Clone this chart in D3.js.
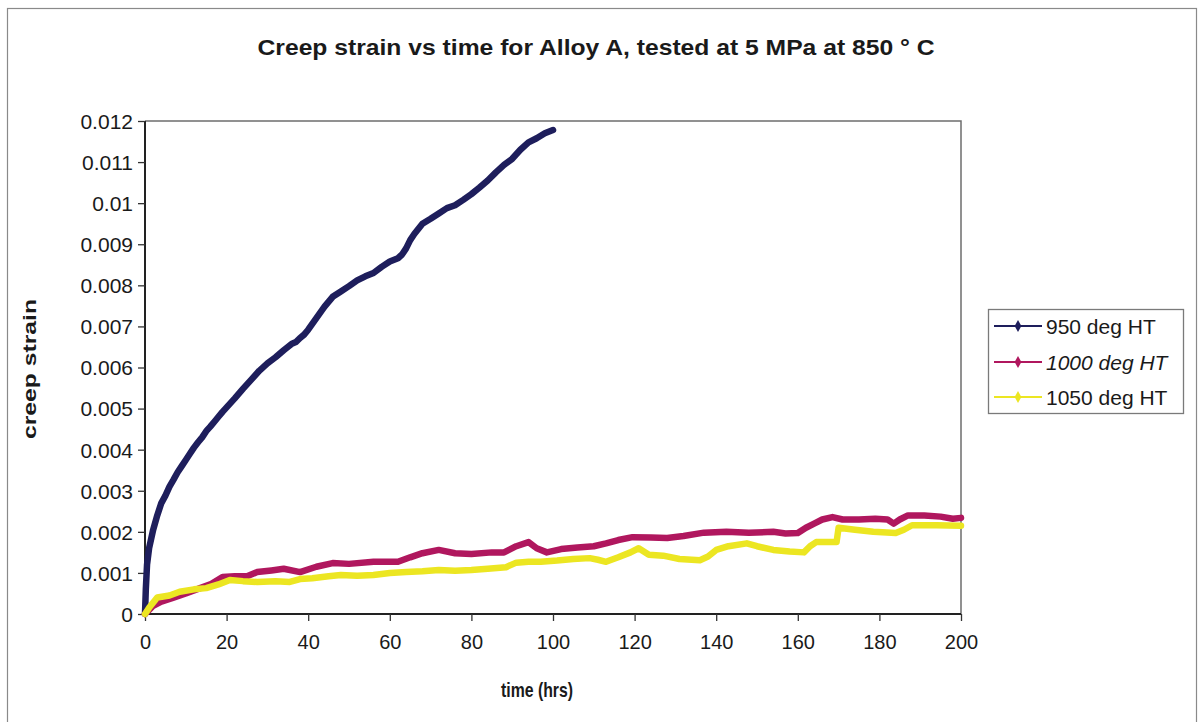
<!DOCTYPE html>
<html>
<head>
<meta charset="utf-8">
<script src="https://cdn.jsdelivr.net/npm/d3@7/dist/d3.min.js"></script>
<style>
  html, body { margin: 0; padding: 0; background: #ffffff; }
  svg { display: block; }
  text { font-family: "Liberation Sans", Arial, sans-serif; fill: #1a1a1a; }
</style>
</head>
<body>
<svg id="chart" width="1199" height="722"></svg>
<script>
// Creep strain (mm/mm) against time (hours) for three heat treatments
const series950 = [
  [0, 0], [0.2, 0.0006], [0.5, 0.0012], [1, 0.0016], [2, 0.00205], [3, 0.0024],
  [4, 0.0027], [5, 0.00288], [6, 0.0031], [7, 0.00327], [8, 0.00345], [9, 0.0036],
  [10, 0.00375], [11, 0.0039], [12, 0.00405], [13, 0.00418], [14, 0.0043], [15, 0.00445],
  [16, 0.00456], [17, 0.00468], [18, 0.0048], [19, 0.00492], [20, 0.00503], [22, 0.00525],
  [24, 0.00548], [26, 0.0057], [28, 0.00592], [30, 0.0061], [32, 0.00625], [34, 0.00642],
  [36, 0.00658], [37, 0.00662], [38, 0.00672], [39, 0.0068], [40, 0.00692], [42, 0.0072],
  [44, 0.00748], [46, 0.00772], [48, 0.00785], [50, 0.00798], [52, 0.00812], [54, 0.00822],
  [56, 0.0083], [58, 0.00845], [60, 0.00858], [62, 0.00866], [63, 0.00875], [64, 0.0089],
  [65, 0.0091], [66, 0.00925], [68, 0.0095], [70, 0.00962], [72, 0.00975], [74, 0.00988], [76, 0.00995],
  [78, 0.01008], [80, 0.01022], [82, 0.01038], [84, 0.01055], [86, 0.01075], [88, 0.01093],
  [90, 0.01108], [92, 0.0113], [94, 0.01148], [96, 0.01158], [98, 0.0117], [100, 0.01178]
];

const series1000 = [
  [0, 0], [1, 0.0001], [2, 0.0002], [4, 0.0003], [7, 0.0004], [10, 0.0005],
  [13.5, 0.00063], [16, 0.00072], [19, 0.0009], [22, 0.00092], [25, 0.00092], [27.5, 0.00102],
  [31, 0.00106], [34, 0.0011], [38, 0.00102], [42, 0.00115], [46, 0.00124], [50, 0.00122],
  [56, 0.00127], [62, 0.00127], [65, 0.00138], [68, 0.00148], [72, 0.00156], [76, 0.00148],
  [80, 0.00146], [85, 0.0015], [88, 0.0015], [91, 0.00165], [94, 0.00175], [96, 0.0016],
  [98.5, 0.0015], [102, 0.00158], [106, 0.00162], [110, 0.00165], [113, 0.00172], [116, 0.0018],
  [119.5, 0.00187], [124, 0.00186], [128, 0.00185], [132, 0.0019], [137, 0.00198], [142.5, 0.002],
  [148, 0.00198], [154, 0.002], [157, 0.00196], [160, 0.00197], [162, 0.0021], [164, 0.0022],
  [166, 0.0023], [168.5, 0.00236], [171, 0.0023], [175, 0.0023], [179, 0.00232], [182, 0.0023],
  [183.5, 0.0022], [185, 0.0023], [187, 0.0024], [191, 0.0024], [195, 0.00237], [198, 0.00232],
  [200, 0.00234]
];

const series1050 = [
  [0, 0], [1, 0.00015], [3, 0.0004], [6, 0.00045], [8.5, 0.00054], [12, 0.0006],
  [15, 0.00063], [18, 0.00072], [20.8, 0.00083], [24, 0.0008], [27.5, 0.00078], [32, 0.0008],
  [35.5, 0.00078], [38, 0.00085], [41, 0.00087], [45, 0.00092], [48, 0.00095], [52, 0.00093],
  [56, 0.00095], [60, 0.001], [64, 0.00102], [68, 0.00104], [72, 0.00107], [76, 0.00105],
  [80, 0.00107], [84, 0.0011], [88.5, 0.00114], [91, 0.00125], [94, 0.00127], [97, 0.00127],
  [101, 0.0013], [105, 0.00134], [109, 0.00136], [111, 0.00132], [113, 0.00127], [116, 0.00138],
  [119, 0.0015], [121, 0.0016], [123.5, 0.00144], [127, 0.00142], [131, 0.00134], [136, 0.00131],
  [138, 0.0014], [140, 0.00156], [143, 0.00165], [147.5, 0.00172], [150, 0.00165], [154, 0.00156],
  [158, 0.00152], [161.5, 0.0015], [163, 0.00165], [164.5, 0.00175], [169.5, 0.00175], [170, 0.0021],
  [174, 0.00205], [178.5, 0.002], [184, 0.00197], [186, 0.00205], [188, 0.00216], [194, 0.00216],
  [200, 0.00215]
];

const seriesNames = ["950 deg HT", "1000 deg HT", "1050 deg HT"];
const seriesColors = ["#1e1e5c", "#b0175e", "#ece622"];
const xTicks = [0, 20, 40, 60, 80, 100, 120, 140, 160, 180, 200];
const yTicks = [0, 0.001, 0.002, 0.003, 0.004, 0.005, 0.006, 0.007, 0.008, 0.009, 0.01, 0.011, 0.012];
const yTickLabels = ["0", "0.001", "0.002", "0.003", "0.004", "0.005", "0.006", "0.007", "0.008", "0.009", "0.01", "0.011", "0.012"];

const titleText = "Creep strain vs time for Alloy A, tested at 5 MPa at 850 \u00b0 C";
const xTitle = "time (hrs)";
const yTitle = "creep strain";

const svg = d3.select("#chart");

// Outer chart frame
svg.append("rect")
  .attr("x", 7.5).attr("y", 8.5)
  .attr("width", 1189).attr("height", 760)
  .attr("fill", "#ffffff")
  .attr("stroke", "#8a8a8a").attr("stroke-width", 1.2);

const plot = { left: 145, right: 961, top: 121, bottom: 614 };

const x = d3.scaleLinear().domain([0, 200]).range([plot.left, plot.right]);
const y = d3.scaleLinear().domain([0, 0.012]).range([plot.bottom, plot.top]);

// Plot area border (top and right)
svg.append("path")
  .attr("d", `M${plot.left},${plot.top}H${plot.right}V${plot.bottom}`)
  .attr("fill", "none").attr("stroke", "#6e6e6e").attr("stroke-width", 1.5);

// Axes
const yAxis = d3.axisLeft(y)
  .tickValues(yTicks)
  .tickFormat((d, i) => yTickLabels[i])
  .tickSize(7).tickPadding(5);
const gy = svg.append("g").attr("transform", `translate(${plot.left},0)`).call(yAxis);

const xAxis = d3.axisBottom(x)
  .tickValues(xTicks)
  .tickSize(7).tickPadding(14);
const gx = svg.append("g").attr("transform", `translate(0,${plot.bottom})`).call(xAxis);

[gx, gy].forEach(g => {
  g.select(".domain").attr("stroke", "#222").attr("stroke-width", 2);
  g.selectAll(".tick line").attr("stroke", "#333").attr("stroke-width", 1.3);
  g.selectAll(".tick text")
    .attr("fill", "#1a1a1a")
    .style("font-family", '"Liberation Sans", Arial, sans-serif');
});
gx.selectAll(".tick text").style("font-size", "20px");
gy.selectAll(".tick text").style("font-size", "21px").attr("dy", "0.35em");
gx.select(".domain").attr("d", `M${plot.left},0H${plot.right}`);
gy.select(".domain").attr("d", `M0,${plot.bottom}V${plot.top}`);

// Series lines
const line = d3.line().x(d => x(d[0])).y(d => y(d[1]));
const allSeries = [series950, series1000, series1050];
allSeries.forEach((s, i) => {
  svg.append("path")
    .datum(s)
    .attr("d", line)
    .attr("fill", "none")
    .attr("stroke", seriesColors[i])
    .attr("stroke-width", 6.5)
    .attr("stroke-linejoin", "round")
    .attr("stroke-linecap", "round");
});

// Title and axis titles
svg.append("text")
  .attr("x", 596).attr("y", 55)
  .attr("text-anchor", "middle")
  .attr("textLength", 677).attr("lengthAdjust", "spacingAndGlyphs")
  .style("font-size", "22px").style("font-weight", "bold")
  .text(titleText);

svg.append("text")
  .attr("x", 537).attr("y", 697)
  .attr("text-anchor", "middle")
  .attr("textLength", 72).attr("lengthAdjust", "spacingAndGlyphs")
  .style("font-size", "21px").style("font-weight", "bold")
  .text(xTitle);

svg.append("text")
  .attr("transform", "translate(36,369) rotate(-90)")
  .attr("text-anchor", "middle")
  .attr("textLength", 140).attr("lengthAdjust", "spacingAndGlyphs")
  .style("font-size", "19px").style("font-weight", "bold")
  .text(yTitle);

// Legend
const legend = svg.append("g");
legend.append("rect")
  .attr("x", 988.5).attr("y", 309.5)
  .attr("width", 195).attr("height", 104)
  .attr("fill", "#ffffff").attr("stroke", "#7a7a7a").attr("stroke-width", 1.3);

const legendY = [326, 362, 397];
seriesNames.forEach((name, i) => {
  const ly = legendY[i];
  legend.append("line")
    .attr("x1", 994).attr("x2", 1042)
    .attr("y1", ly).attr("y2", ly)
    .attr("stroke", seriesColors[i]).attr("stroke-width", 2.2);
  legend.append("path")
    .attr("d", d3.symbol(d3.symbolDiamond, 40)())
    .attr("transform", `translate(1018,${ly})`)
    .attr("fill", seriesColors[i]);
  legend.append("text")
    .attr("x", 1046).attr("y", ly + 8)
    .style("font-size", "21px")
    .style("font-style", i === 1 ? "italic" : "normal")
    .text(name);
});
</script>
</body>
</html>
